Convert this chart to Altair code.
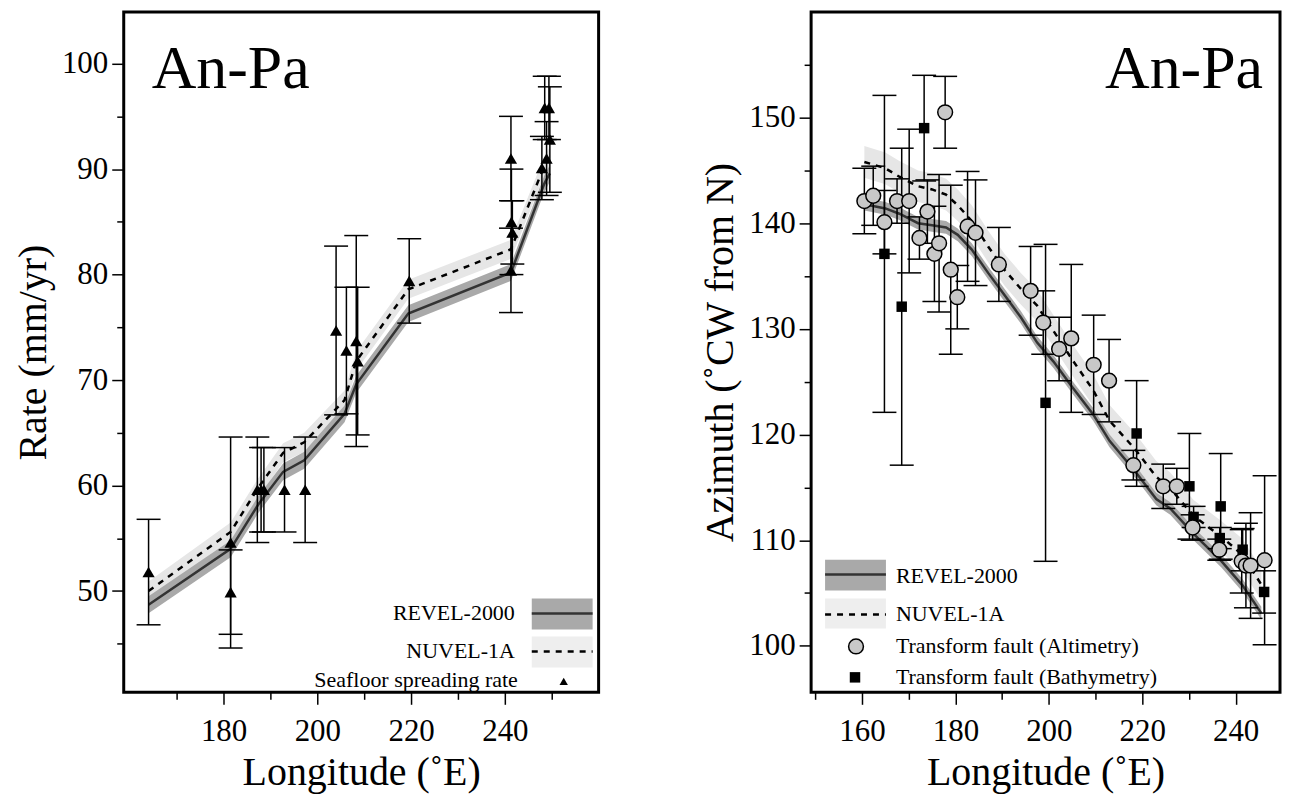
import altair as alt
import pandas as pd

FONT = "Liberation Serif"

# ---------------- Left panel: seafloor spreading rates ----------------
rate_lon = [164.0, 181.5, 181.5, 187.2, 188.0, 188.6, 193.0, 197.4, 204.0, 206.2, 208.3, 208.6, 219.6,
            241.3, 241.4, 241.6, 241.3, 247.9, 248.5, 248.9, 249.4, 249.6]
rate_val = [51.8, 54.6, 49.9, 59.6, 59.6, 59.6, 59.6, 59.6, 74.7, 72.8, 73.7, 71.8, 79.4,
            91.0, 85.0, 84.0, 80.4, 90.1, 95.8, 91.0, 95.8, 92.8]
rate_err = [5, 10, 4, 5, 4, 4, 4, 5, 8, 6, 10, 7, 4,
            4, 5, 3, 4, 3, 3, 3.5, 3, 5]

modelL_lon = [164.0, 181.5, 187.4, 192.7, 197.2, 205.8, 208.3, 219.4, 241.3, 248.4, 249.6]
revel_rate = [48.7, 54.0, 58.2, 61.3, 62.4, 66.8, 69.6, 76.3, 80.2, 88.6, 89.6]
nuvel_rate = [50.0, 55.6, 59.8, 63.1, 64.1, 68.1, 71.8, 78.6, 82.4, 90.3, 91.2]
revel_rate_unc = 0.8
nuvel_rate_unc = 0.9

# ---------------- Right panel: transform fault azimuths ----------------
alt_lon = [160.5, 162.4, 164.8, 167.5, 170.1, 172.3, 174.0, 175.5, 176.5, 177.8, 179.0, 180.4,
           182.6, 184.3, 189.3, 196.1, 198.8, 202.2, 204.8, 209.6, 212.9, 218.1, 224.5, 227.4,
           230.8, 236.5, 241.3, 242.2, 243.2, 246.2]
alt_az = [142.1, 142.6, 140.1, 142.1, 142.1, 138.6, 141.1, 137.1, 138.1, 150.5, 135.6, 133.0,
          139.7, 139.1, 136.1, 133.6, 130.6, 128.1, 129.1, 126.6, 125.1, 117.1, 115.1, 115.1,
          111.2, 109.1, 108.0, 107.6, 107.6, 108.1]
alt_err = [3.1, 2.8, 3.0, 2.1, 6.8, 2.0, 3.0, 4.5, 6.5, 3.4, 8.0, 3.0,
           5.2, 5.0, 3.5, 4.2, 3.0, 3.0, 7.0, 4.7, 3.9, 1.4, 2.1, 1.7,
           1.2, 1.0, 3.0, 4.0, 5.0, 8.0]

bat_lon = [164.8, 168.5, 173.3, 199.3, 218.8, 230.1, 231.0, 236.8, 236.6, 241.5, 246.1]
bat_az = [137.1, 132.1, 149.0, 123.0, 120.1, 115.1, 112.2, 113.2, 110.2, 109.1, 105.1]
bat_err = [15, 15, 5, 15, 5, 5, 1.0, 5, 1.0, 2.0, 2.0]

modelR_lon = [160.5, 165.0, 168.0, 172.0, 175.0, 178.0, 180.5, 183.5, 187.0, 190.5, 194.0,
              197.5, 201.0, 205.0, 209.5, 213.0, 218.5, 223.0, 226.0, 231.0, 237.0, 241.5, 245.5]
revel_az = [141.8, 141.4, 140.9, 140.0, 139.8, 139.6, 138.9, 137.5, 135.3, 133.2, 131.1,
            128.7, 126.9, 124.5, 121.9, 119.4, 116.5, 113.9, 113.0, 110.6, 108.0, 105.7, 103.1]
nuvel_az = [145.8, 145.2, 144.4, 143.5, 143.2, 142.7, 141.7, 140.2, 137.8, 135.6, 133.8,
            132.2, 129.8, 127.1, 124.2, 121.3, 118.6, 116.0, 114.9, 112.3, 110.3, 108.6, 105.8]
revel_az_unc = 0.6
nuvel_az_unc = 1.5

# ---------------- tables ----------------
rates = pd.DataFrame({"lon": rate_lon, "v": rate_val, "err": rate_err})
rates["lo"] = rates["v"] - rates["err"]
rates["hi"] = rates["v"] + rates["err"]
modelL = pd.DataFrame({"lon": modelL_lon, "revel": revel_rate, "nuvel": nuvel_rate})
modelL["r_lo"] = modelL["revel"] - revel_rate_unc
modelL["r_hi"] = modelL["revel"] + revel_rate_unc
modelL["n_lo"] = modelL["nuvel"] - nuvel_rate_unc
modelL["n_hi"] = modelL["nuvel"] + nuvel_rate_unc

alti = pd.DataFrame({"lon": alt_lon, "v": alt_az, "err": alt_err})
alti["lo"] = alti["v"] - alti["err"]
alti["hi"] = alti["v"] + alti["err"]
bath = pd.DataFrame({"lon": bat_lon, "v": bat_az, "err": bat_err})
bath["lo"] = bath["v"] - bath["err"]
bath["hi"] = bath["v"] + bath["err"]
modelR = pd.DataFrame({"lon": modelR_lon, "revel": revel_az, "nuvel": nuvel_az})
modelR["r_lo"] = modelR["revel"] - revel_az_unc
modelR["r_hi"] = modelR["revel"] + revel_az_unc
modelR["n_lo"] = modelR["nuvel"] - nuvel_az_unc
modelR["n_hi"] = modelR["nuvel"] + nuvel_az_unc

DARK_BAND = "#a9a9a9"
LIGHT_BAND = "#e6e6e6"


def make_axis(values, major_mod, title, label_pad, title_pad):
    return alt.Axis(
        values=values,
        labelExpr=f"datum.value % {major_mod} == 0 ? datum.label : ''",
        tickSize={"condition": {"test": f"datum.value % {major_mod} == 0", "value": 12}, "value": 7},
        grid=False, domain=False, ticks=True, tickColor="black", tickWidth=1.5,
        labelFont=FONT, labelFontSize=31, labelColor="black", labelPadding=label_pad,
        labelFlush=False, labelOverlap=False,
        title=title, titleFont=FONT, titleFontSize=40, titleFontWeight="normal",
        titleColor="black", titlePadding=title_pad,
    )


def panel(df_model, point_sets, xs, ys, xaxis, yaxis):
    X = lambda f: alt.X(f"{f}:Q", scale=xs, axis=xaxis)
    Y = lambda f: alt.Y(f"{f}:Q", scale=ys, axis=yaxis)
    base = alt.Chart(df_model)
    layers = [
        base.mark_area(color=LIGHT_BAND, opacity=1).encode(x=X("lon"), y=Y("n_lo"), y2="n_hi"),
        base.mark_area(color=DARK_BAND, opacity=1).encode(x=X("lon"), y=Y("r_lo"), y2="r_hi"),
        base.mark_line(color="#333333", strokeWidth=2.5).encode(x=X("lon"), y=Y("revel")),
        base.mark_line(color="black", strokeWidth=2.5, strokeDash=[6, 6]).encode(x=X("lon"), y=Y("nuvel")),
    ]
    for df, mark in point_sets:
        pb = alt.Chart(df)
        layers.append(pb.mark_rule(color="black", strokeWidth=1.5).encode(x=X("lon"), y=Y("lo"), y2="hi"))
        layers.append(pb.mark_tick(color="black", orient="horizontal", size=24, thickness=1.5, opacity=1)
                      .encode(x=X("lon"), y=Y("lo")))
        layers.append(pb.mark_tick(color="black", orient="horizontal", size=24, thickness=1.5, opacity=1)
                      .encode(x=X("lon"), y=Y("hi")))
    for df, mark in point_sets:
        layers.append(alt.Chart(df).mark_point(**mark).encode(x=X("lon"), y=Y("v")))
    return layers


def txt(s, x, y, size=22, align="left", baseline="middle"):
    return alt.Chart(pd.DataFrame({"t": [s]})).mark_text(
        font=FONT, fontSize=size, align=align, baseline=baseline, color="black"
    ).encode(text="t:N", x=alt.value(x), y=alt.value(y))


def box(x1, x2, y1, y2, color):
    return alt.Chart(pd.DataFrame({"a": [0]})).mark_rect(color=color).encode(
        x=alt.value(x1), x2=alt.value(x2), y=alt.value(y1), y2=alt.value(y2))


def seg(x1, x2, y, color, dash=None):
    kw = dict(color=color, strokeWidth=2.5)
    if dash:
        kw["strokeDash"] = dash
    return alt.Chart(pd.DataFrame({"a": [0]})).mark_rule(**kw).encode(
        x=alt.value(x1), x2=alt.value(x2), y=alt.value(y))


def sym(x, y, **mark):
    return alt.Chart(pd.DataFrame({"a": [0]})).mark_point(**mark).encode(x=alt.value(x), y=alt.value(y))


# ---------------- left chart ----------------
WL, HL = 476, 682
xsL = alt.Scale(domain=[158.7, 260.0], nice=False, zero=False)
ysL = alt.Scale(domain=[40.4, 104.9], nice=False, zero=False)
xaxL = make_axis(list(range(170, 251, 10)), 20, "Longitude (˚E)", 12, 6)
yaxL = make_axis(list(range(45, 101, 5)), 10, "Rate (mm/yr)", 4, 8)

tri = dict(shape="triangle-up", filled=True, color="black", size=150, opacity=1)
left_layers = panel(modelL, [(rates, tri)], xsL, ysL, xaxL, yaxL)
left_layers += [
    txt("An-Pa", 28, 76, size=62, baseline="alphabetic"),
    box(409, 470, 588, 619, DARK_BAND), seg(409, 470, 603, "#333333"),
    txt("REVEL-2000", 392, 603, align="right"),
    box(409, 470, 626, 657, "#eeeeee"), seg(409, 470, 641, "black", [6, 6]),
    txt("NUVEL-1A", 392, 641, align="right"),
    txt("Seafloor spreading rate", 395, 670, align="right"),
    sym(441, 671, shape="triangle-up", filled=True, color="black", size=70, opacity=1),
]
left = alt.layer(*left_layers).properties(width=WL, height=HL)

# ---------------- right chart ----------------
WR, HR = 470, 682
xsR = alt.Scale(domain=[149.1, 249.5], nice=False, zero=False)
ysR = alt.Scale(domain=[95.6, 160.0], nice=False, zero=False)
xaxR = make_axis(list(range(150, 241, 10)), 20, "Longitude (˚E)", 12, 6)
yaxR = make_axis(list(range(100, 156, 5)), 10, "Azimuth (˚CW from N)", 4, 8)

circ = dict(shape="circle", filled=True, fill="#c8c8c8", stroke="black", strokeWidth=1.5, size=220, opacity=1)
sq = dict(shape="square", filled=True, color="black", size=110, opacity=1)
right_layers = panel(modelR, [(bath, sq), (alti, circ)], xsR, ysR, xaxR, yaxR)
right_layers += [
    txt("An-Pa", 453, 76, size=62, align="right", baseline="alphabetic"),
    box(14, 75, 549, 580, DARK_BAND), seg(14, 75, 564, "#333333"),
    txt("REVEL-2000", 85, 565),
    box(14, 75, 588, 618, "#eeeeee"), seg(14, 75, 604, "black", [6, 6]),
    txt("NUVEL-1A", 85, 604),
    sym(45, 636, shape="circle", filled=True, fill="#c8c8c8", stroke="black", strokeWidth=1.5, size=220, opacity=1),
    txt("Transform fault (Altimetry)", 85, 636),
    sym(44, 667, shape="square", filled=True, color="black", size=110, opacity=1),
    txt("Transform fault (Bathymetry)", 85, 667),
]
right = alt.layer(*right_layers).properties(width=WR, height=HR)

chart = alt.hconcat(left, right, spacing=99).properties(
    padding={"left": 4, "top": 1, "right": 2, "bottom": 2},
    background="white",
).configure_view(stroke="black", strokeWidth=3)

chart.save("out.html", embed_options={"renderer": "svg", "actions": False})
